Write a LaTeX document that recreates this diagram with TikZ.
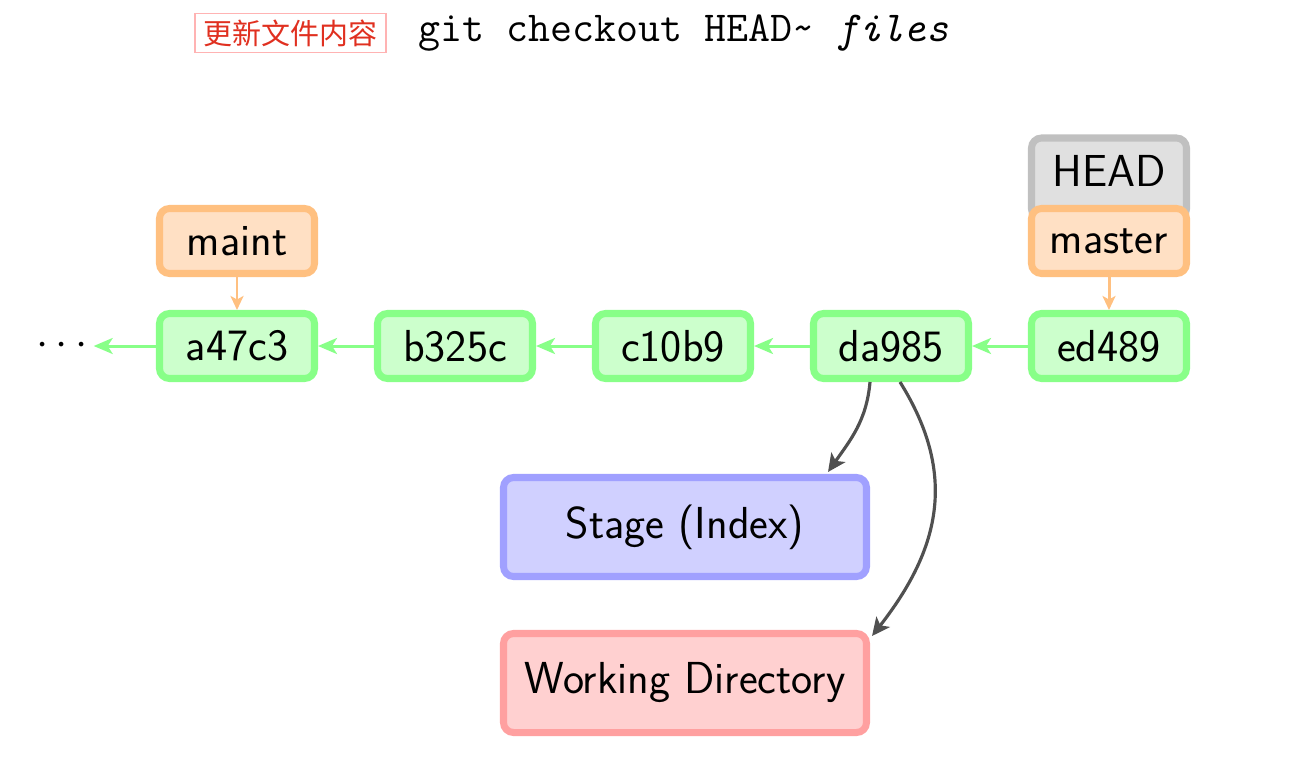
\documentclass[tikz,border=0pt]{standalone}
\usepackage{fontspec}
\newfontfamily\cjk{Noto Sans CJK SC}
\usetikzlibrary{positioning,arrows.meta}
\definecolor{commitdraw}{HTML}{88FF88}
\definecolor{commitfill}{HTML}{CCFFCC}
\definecolor{branchdraw}{HTML}{FFC080}
\definecolor{branchfill}{HTML}{FFE0C4}
\definecolor{headdraw}{HTML}{C0C0C0}
\definecolor{headfill}{HTML}{E0E0E0}
\definecolor{stagedraw}{HTML}{A0A0FF}
\definecolor{stagefill}{HTML}{D0D0FF}
\definecolor{workdraw}{HTML}{FFA0A0}
\definecolor{workfill}{HTML}{FFD0D0}
\definecolor{flowline}{HTML}{505050}
\definecolor{tagred}{HTML}{E03020}
\tikzstyle{commit}=[rectangle,rounded corners=0.2cm,minimum width=3.1cm,minimum height=1.3cm,text centered,draw=commitdraw,fill=commitfill,line width=4pt,font=\sffamily\fontsize{25.5}{30}\selectfont]
\tikzstyle{branch}=[commit,draw=branchdraw,fill=branchfill]
\tikzstyle{headbox}=[commit,draw=headdraw,fill=headfill,minimum height=1.62cm,text depth=0.3cm]
\tikzstyle{area}=[commit,minimum width=7.26cm,minimum height=1.98cm]
\tikzstyle{history}=[->,>={Stealth[length=0.38cm,width=0.32cm,inset=0.1cm]},line width=1.7pt,draw=commitdraw]
\tikzstyle{pointer}=[->,>={Stealth[length=0.28cm,width=0.26cm,inset=0.07cm]},line width=1.7pt,draw=branchdraw]
\tikzstyle{flow}=[->,>={Stealth[length=0.36cm,width=0.34cm,inset=0.09cm]},line width=1.8pt,draw=flowline]

\begin{document}
\begin{tikzpicture}
\useasboundingbox (0,0) rectangle (26,-15.4);
\node(tag)[rectangle,draw=workdraw!80,line width=0.6pt,minimum width=3.82cm,minimum height=0.76cm,text=tagred,font=\cjk\fontsize{16.5}{18}\selectfont] at (5.81,-0.66){更新文件内容};
\node(cmd)[right=0.64cm of tag,inner sep=0pt,font=\ttfamily\fontsize{24.3}{28}\selectfont]{git checkout HEAD\textasciitilde{} \textit{files}};
\node(ed489)[commit] at (22.18,-6.92){ed489};
\node(da985)[commit,left of=ed489,node distance=4.36cm]{da985};
\node(c10b9)[commit,left of=da985,node distance=4.36cm]{c10b9};
\node(b325c)[commit,left of=c10b9,node distance=4.36cm]{b325c};
\node(a47c3)[commit,left of=b325c,node distance=4.36cm]{a47c3};
\node(dots)[left of=a47c3,node distance=3.5cm,font=\fontsize{27}{30}\selectfont]{$\cdots$};
\node(head)[headbox,above of=ed489,node distance=3.35cm]{HEAD};
\node(master)[branch,above of=ed489,node distance=2.1cm]{master};
\node(maint)[branch,above of=a47c3,node distance=2.1cm]{maint};
\node(stage)[area,draw=stagedraw,fill=stagefill] at (13.7,-10.54){Stage (Index)};
\node(work)[area,draw=workdraw,fill=workfill,below of=stage,node distance=3.12cm]{Working Directory};
\draw[history](ed489)--(da985);
\draw[history](da985)--(c10b9);
\draw[history](c10b9)--(b325c);
\draw[history](b325c)--(a47c3);
\draw[history](a47c3)--(dots);
\draw[pointer](maint)--(a47c3);
\draw[pointer](master)--(ed489);
\draw[flow]([xshift=-0.42cm]da985.south) to[out=-95,in=55] ([xshift=-0.84cm,yshift=0.04cm]stage.north east);
\draw[flow]([xshift=0.18cm]da985.south) to[out=-58,in=52,looseness=1.1] ([xshift=0.04cm,yshift=-0.12cm]work.north east);
\end{tikzpicture}
\end{document}
